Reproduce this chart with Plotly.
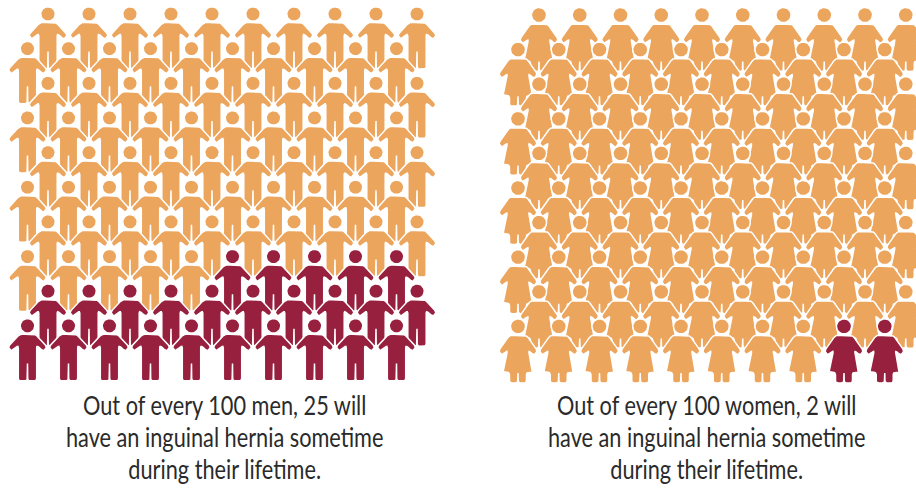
import math
import plotly.graph_objects as go

panel_names = ["men", "women"]
people_per_row = [10, 10, 10, 10, 10, 10, 10, 10, 10, 10]
totals = [100, 100]
affected = [25, 2]
captions = [
    ["Out of every 100 men, 25 will", "have an inguinal hernia sometime", "during their lifetime."],
    ["Out of every 100 women, 2 will", "have an inguinal hernia sometime", "during their lifetime."],
]

ORANGE = "#EBA55D"
DARK = "#98203F"
FONT = "Lato"

# half outlines (right side), relative to the head centre, in pixels
MAN_HALF = [(0, 8.5), (8, 8.5), (19.5, 21), (16, 25.5), (9.2, 19.5), (9.2, 55), (0.2, 55), (0.2, 38), (0, 37.5)]
WOMAN_HALF = [(0, 9), (8.5, 9), (19.5, 24.5), (16, 29), (10.5, 24), (15, 46), (8.5, 46), (8.5, 56.5), (0.2, 56.5), (0.2, 47), (0, 46.5)]
ROUND = 2.5


def rounded(poly, r):
    out = []
    n = len(poly)
    for i in range(n):
        p0, p1, p2 = poly[i - 1], poly[i], poly[(i + 1) % n]
        d1 = math.dist(p0, p1)
        d2 = math.dist(p1, p2)
        a = min(r, d1 / 2) / d1
        b = min(r, d2 / 2) / d2
        s = (p1[0] + (p0[0] - p1[0]) * a, p1[1] + (p0[1] - p1[1]) * a)
        e = (p1[0] + (p2[0] - p1[0]) * b, p1[1] + (p2[1] - p1[1]) * b)
        for k in range(5):
            t = k / 4
            out.append((
                (1 - t) ** 2 * s[0] + 2 * t * (1 - t) * p1[0] + t ** 2 * e[0],
                (1 - t) ** 2 * s[1] + 2 * t * (1 - t) * p1[1] + t ** 2 * e[1],
            ))
    return out


def mirrored(half):
    right = list(half)
    left = [(-x, y) for x, y in reversed(half) if x != 0]
    return rounded(right + left, ROUND)


OUTLINES = {"men": mirrored(MAN_HALF), "women": mirrored(WOMAN_HALF)}
HEAD_R = {"men": 7.3, "women": 7.6}
LAYOUT = {
    "men": dict(x_even=48.0, x_odd=27.5, dx=41.0, y0=14.0, dy=34.65),
    "women": dict(x_even=539.0, x_odd=518.0, dx=40.75, y0=15.0, dy=34.6),
}
CAPTION_X = {"men": 224, "women": 706}
CAPTION_Y = 437

fig = go.Figure()


def add_person(kind, cx, cy, colour):
    xs = [cx + p[0] for p in OUTLINES[kind]]
    ys = [cy + p[1] for p in OUTLINES[kind]]
    xs.append(xs[0])
    ys.append(ys[0])
    xs.append(None)
    ys.append(None)
    r = HEAD_R[kind]
    for k in range(29):
        a = 2 * math.pi * k / 28
        xs.append(cx + r * math.cos(a))
        ys.append(cy + r * math.sin(a))
    fig.add_trace(go.Scatter(
        x=xs, y=ys, mode="lines", fill="toself", fillcolor=colour,
        line=dict(color="white", width=1.5), hoverinfo="skip", showlegend=False,
    ))


for name, total, hit, lines in zip(panel_names, totals, affected, captions):
    g = LAYOUT[name]
    remaining = hit
    rows = []
    # the highlighted people fill up from the bottom row, right to left
    for r in reversed(range(len(people_per_row))):
        n = people_per_row[r]
        d = min(n, remaining)
        remaining -= d
        rows.append((r, n, d))
    for r, n, d in sorted(rows):
        x0 = g["x_even"] if r % 2 == 0 else g["x_odd"]
        cy = g["y0"] + r * g["dy"]
        for i in range(n):
            add_person(name, x0 + i * g["dx"], cy, DARK if i >= n - d else ORANGE)
    fig.add_annotation(
        x=CAPTION_X[name], y=CAPTION_Y, text="<br>".join(lines), showarrow=False,
        xanchor="center", yanchor="middle", align="center",
        font=dict(family=FONT, size=26.5, color="#2A2A2A"),
    )

fig.update_layout(
    width=916, height=488, margin=dict(l=0, r=0, t=0, b=0),
    paper_bgcolor="white", plot_bgcolor="white", showlegend=False,
    xaxis=dict(range=[0, 916], visible=False, fixedrange=True),
    yaxis=dict(range=[488, 0], visible=False, fixedrange=True),
)

# no page margin, tighter caption leading and the condensed look of the lettering
POST = """
document.body.style.margin = '0';
var gd = document.getElementById('{plot_id}');
function condense() {
  gd.querySelectorAll('text.annotation-text').forEach(function (t) {
    t.querySelectorAll('tspan.line').forEach(function (l, i) {
      l.setAttribute('dy', (2.45 + i * 32) + 'px');
    });
    var b = t.getBBox();
    var c = b.x + b.width / 2;
    t.setAttribute('transform', 'translate(' + c + ',0) scale(0.82,1) translate(' + (-c) + ',0)');
  });
}
condense();
gd.on('plotly_afterplot', condense);
"""
fig.write_html("out.html", config={"displayModeBar": False}, post_script=POST)
